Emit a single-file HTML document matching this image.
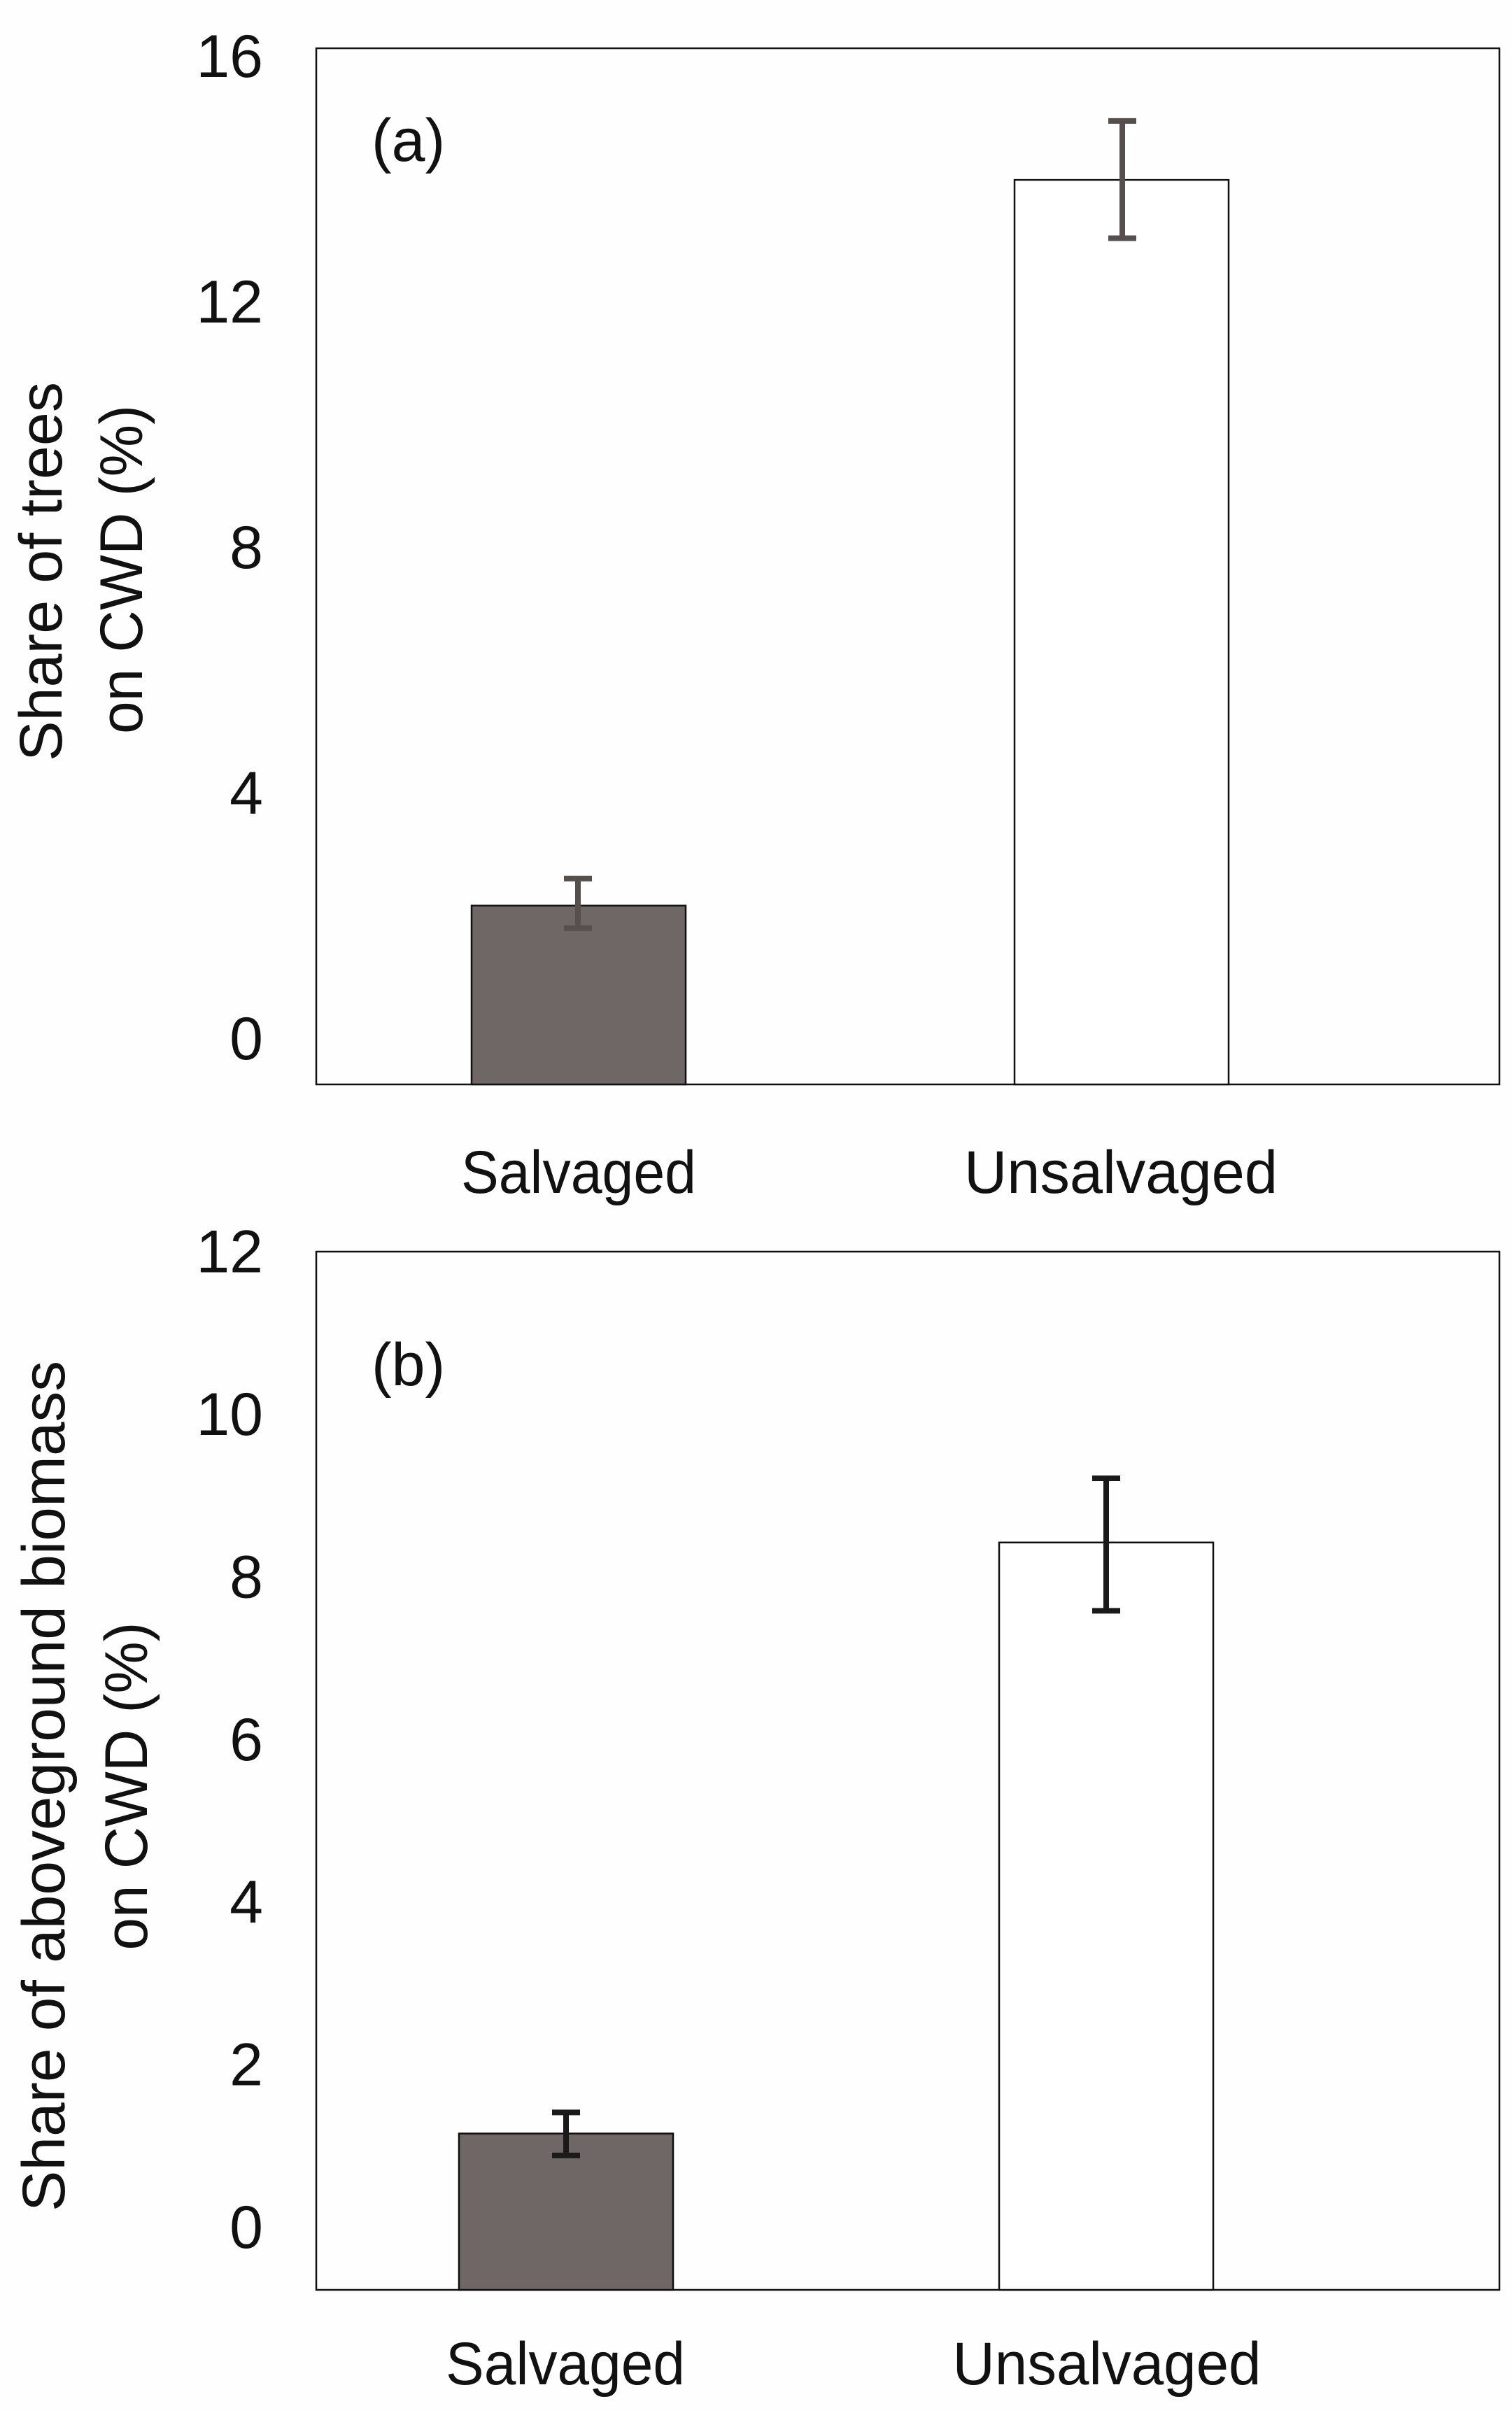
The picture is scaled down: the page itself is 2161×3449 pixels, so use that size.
<!DOCTYPE html>
<html><head><meta charset="utf-8"><style>
html,body{margin:0;padding:0;background:#fefefe;}
svg{display:block;}
text{font-family:"Liberation Sans",sans-serif;fill:#111;}
</style></head><body>
<svg id="chart" width="2161" height="3449" viewBox="0 0 2161 3449" xmlns="http://www.w3.org/2000/svg">
<rect x="0" y="0" width="2161" height="3449" fill="#fefefe"/>
<g id="pa"></g>
<g id="pb"></g>
</svg>
<script>
const categories = ["Salvaged", "Unsalvaged"];
const valuesA = [2.15, 13.97];
const errLowA = [1.78, 13.02];
const errHighA = [2.59, 14.93];
const ticksA = [0, 4, 8, 12, 16];
const valuesB = [1.14, 8.41];
const errLowB = [0.87, 7.57];
const errHighB = [1.40, 9.2];
const ticksB = [0, 2, 4, 6, 8, 10, 12];

const NS = "http://www.w3.org/2000/svg";
function mk(parent, tag, attrs, txt) {
  const e = document.createElementNS(NS, tag);
  for (const k in attrs) e.setAttribute(k, attrs[k]);
  if (txt !== undefined) e.textContent = txt;
  parent.appendChild(e);
  return e;
}

function drawPanel(g, cfg) {
  const y = v => cfg.zeroY - v * cfg.perUnit;
  const frame = mk(g, "rect", {x: cfg.left, y: cfg.top, width: cfg.right - cfg.left, height: cfg.bottom - cfg.top, fill: "#fefefe", stroke: "#111", "stroke-width": 2.5});
  
  
  cfg.ticks.forEach(t => {
    const tl = mk(g, "text", {x: 376, y: y(t) + 31, "text-anchor": "end", "font-size": 86}, String(t));
    
    
  });
  cfg.values.forEach((v, i) => {
    const cx = cfg.barCenters[i];
    const b = mk(g, "rect", {x: cx - 153, y: y(v), width: 306, height: cfg.bottom - y(v), fill: i === 0 ? "#6e6766" : "#ffffff", stroke: "#111", "stroke-width": 2.5});
    
    
    const eg = mk(g, "g", {stroke: cfg.errColor, "stroke-width": 8, fill: "none"});
    
    
    const ex = cfg.errCenters[i];
    mk(eg, "line", {x1: ex, x2: ex, y1: y(cfg.errHigh[i]), y2: y(cfg.errLow[i])});
    mk(eg, "line", {x1: ex - 20, x2: ex + 20, y1: y(cfg.errHigh[i]), y2: y(cfg.errHigh[i])});
    mk(eg, "line", {x1: ex - 20, x2: ex + 20, y1: y(cfg.errLow[i]), y2: y(cfg.errLow[i])});
    const cl = mk(g, "text", {x: cfg.labelCenters[i], y: cfg.catBaseline, "text-anchor": "middle", "font-size": 86, textLength: cfg.labelLens[i], lengthAdjust: "spacingAndGlyphs"}, categories[i]);
    
    
  });
  const pl = mk(g, "text", {x: 531, y: cfg.panelLabelY, "font-size": 86}, cfg.panelLabel);
  
  
  cfg.titles.forEach((t, k) => {
    const tt = mk(g, "text", {x: 0, y: 0, "text-anchor": "middle", "font-size": 86, textLength: t.len, lengthAdjust: "spacingAndGlyphs", transform: "translate(" + t.x + "," + t.cy + ") rotate(-90)"}, t.text);
    
    
  });
}

drawPanel(document.getElementById("pa"), {
  left: 452, right: 2143, top: 69, bottom: 1550,
  zeroY: 1483, perUnit: 87.75, ticks: ticksA,
  values: valuesA, errLow: errLowA, errHigh: errHighA,
  barCenters: [827, 1603], errCenters: [826, 1604], errColor: "#574f4d",
  labelCenters: [827, 1602], labelLens: [336, 448], catBaseline: 1705,
  panelLabel: "(a)", panelLabelY: 230,
  titles: [{text: "Share of trees", x: 88, cy: 817, len: 542},
           {text: "on CWD (%)", x: 203, cy: 814, len: 470}]
});
drawPanel(document.getElementById("pb"), {
  left: 452, right: 2143, top: 1789, bottom: 3273,
  zeroY: 3182, perUnit: 116.2, ticks: ticksB,
  values: valuesB, errLow: errLowB, errHigh: errHighB,
  barCenters: [809, 1581], errCenters: [809, 1581], errColor: "#1a1a1a",
  labelCenters: [808, 1582], labelLens: [342, 441], catBaseline: 3408,
  panelLabel: "(b)", panelLabelY: 1980,
  titles: [{text: "Share of aboveground biomass", x: 92, cy: 2553, len: 1216},
           {text: "on CWD (%)", x: 210, cy: 2553, len: 469}]
});
</script>
</body></html>
